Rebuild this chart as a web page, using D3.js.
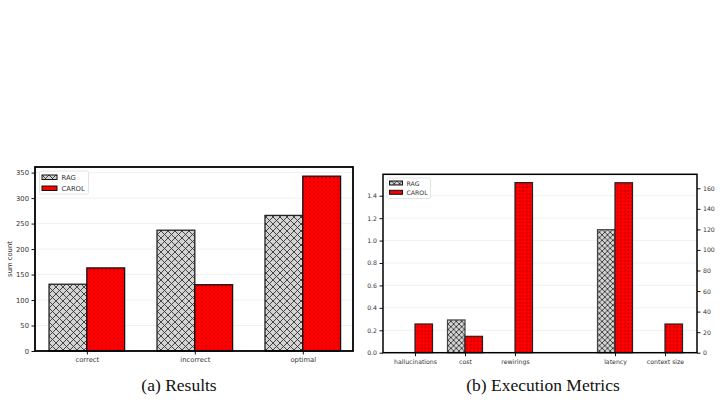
<!DOCTYPE html>
<html><head><meta charset="utf-8">
<script src="https://cdn.jsdelivr.net/npm/d3@7/dist/d3.min.js"></script>
<style>body{margin:0;background:#fff}svg{display:block}</style>
</head><body>
<svg id="c" width="721" height="404"></svg>
<script>
// ---- data ----
const seriesNames = ["RAG", "CAROL"];
const resultCats = ["correct", "incorrect", "optimal"];
const resultRAG = [131, 237, 266];
const resultCAROL = [163, 130, 343];
const resultTicks = [0, 50, 100, 150, 200, 250, 300, 350];

const metricCats = ["hallucinations", "cost", "rewirings", "", "latency", "context size"];
const metricRAG = [0, 0.292, 0, null, 119.7, 0];
const metricCAROL = [0.256, 0.146, 1.517, null, 165.4, 27.9];
const metricOnRightAxis = [false, false, false, false, true, true];
const metricLeftTicks = [0, 0.2, 0.4, 0.6, 0.8, 1.0, 1.2, 1.4];
const metricRightTicks = [0, 20, 40, 60, 80, 100, 120, 140, 160];

const captions = ["(a) Results", "(b) Execution Metrics"];

const svg = d3.select("#c");
const defs = svg.append("defs");

function makePatterns(id, cross, dot) {
  const p1 = defs.append("pattern").attr("id", "rag" + id).attr("patternUnits", "userSpaceOnUse")
    .attr("width", cross).attr("height", cross);
  p1.append("rect").attr("width", cross).attr("height", cross).attr("fill", "#d3d3d3");
  p1.append("path").attr("d", `M0,0L${cross},${cross}M0,${cross}L${cross},0`)
    .attr("stroke", "#333").attr("stroke-width", 0.9).attr("fill", "none");
  const p2 = defs.append("pattern").attr("id", "carol" + id).attr("patternUnits", "userSpaceOnUse")
    .attr("width", dot).attr("height", dot);
  p2.append("rect").attr("width", dot).attr("height", dot).attr("fill", "#ff0000");
  p2.append("circle").attr("cx", dot / 2).attr("cy", dot / 2).attr("r", 0.45).attr("fill", "#000");
}
makePatterns("A", 7, 4);
makePatterns("B", 5.4, 3.5);

const txtCol = "#333";

// ---------- chart (a) ----------
{
  const fs = 6.8;
  const x = d3.scaleLinear().domain([-0.48, 2.465]).range([35, 353]);
  const y = d3.scaleLinear().domain([0, 361]).range([351, 167]);
  const bw = 0.35 * (x(1) - x(0));
  const g = svg.append("g");
  g.selectAll(".grid").data(resultTicks.slice(1)).enter().append("line")
    .attr("x1", x.range()[0]).attr("x2", x.range()[1])
    .attr("y1", d => y(d)).attr("y2", d => y(d))
    .attr("stroke", "#ececec").attr("stroke-width", 0.8);
  const data = resultCats.map((c, i) => ({ i, rag: resultRAG[i], carol: resultCAROL[i] }));
  g.selectAll(".rag").data(data).enter().append("rect")
    .attr("x", d => x(d.i) - bw).attr("width", bw)
    .attr("y", d => y(d.rag)).attr("height", d => y(0) - y(d.rag))
    .attr("fill", "url(#ragA)").attr("stroke", "#222").attr("stroke-width", 1.3);
  g.selectAll(".carol").data(data).enter().append("rect")
    .attr("x", d => x(d.i)).attr("width", bw)
    .attr("y", d => y(d.carol)).attr("height", d => y(0) - y(d.carol))
    .attr("fill", "url(#carolA)").attr("stroke", "#111").attr("stroke-width", 1.3);
  const ya = g.append("g").attr("transform", `translate(${x.range()[0]},0)`)
    .call(d3.axisLeft(y).tickValues(resultTicks).tickSize(3.5).tickPadding(2.5).tickFormat(d3.format("d")));
  const xa = g.append("g").attr("transform", `translate(0,${y(0)})`)
    .call(d3.axisBottom(x).tickValues(resultCats.map((c, i) => i)).tickSize(3.5).tickPadding(3).tickFormat(i => resultCats[i]));
  [ya, xa].forEach(a => {
    a.select(".domain").remove();
    a.selectAll("text").attr("font-family", "DejaVu Sans").attr("font-size", fs).attr("fill", txtCol);
    a.selectAll("line").attr("stroke", "#111").attr("stroke-width", 1);
  });
  g.append("rect").attr("x", x.range()[0]).attr("y", y.range()[1])
    .attr("width", x.range()[1] - x.range()[0]).attr("height", y.range()[0] - y.range()[1])
    .attr("fill", "none").attr("stroke", "#000").attr("stroke-width", 1.8);
  g.append("text").attr("transform", `translate(12,${(y.range()[0] + y.range()[1]) / 2}) rotate(-90)`)
    .attr("text-anchor", "middle").attr("font-family", "DejaVu Sans").attr("font-size", fs).attr("fill", txtCol)
    .text("sum count");
  const lg = g.append("g");
  lg.append("rect").attr("x", 39.5).attr("y", 171).attr("width", 49).attr("height", 23)
    .attr("fill", "#fff").attr("stroke", "#ddd").attr("stroke-width", 0.8).attr("rx", 1.5);
  seriesNames.forEach((n, k) => {
    lg.append("rect").attr("x", 42).attr("y", 175 + k * 11).attr("width", 15).attr("height", 4.5)
      .attr("fill", k === 0 ? "url(#ragA)" : "url(#carolA)").attr("stroke", "#111").attr("stroke-width", 1);
    lg.append("text").attr("x", 61.5).attr("y", 180 + k * 11).attr("font-family", "DejaVu Sans")
      .attr("font-size", fs).attr("fill", txtCol).text(n);
  });
}

// ---------- chart (b) ----------
{
  const fs = 6.2;
  const x = d3.scaleLinear().domain([-0.64, 5.64]).range([383, 697]);
  const yL = d3.scaleLinear().domain([0, 1.591]).range([352.7, 174.3]);
  const yR = d3.scaleLinear().domain([0, 173.6]).range([352.7, 174.3]);
  const bw = 0.35 * (x(1) - x(0));
  const g = svg.append("g");
  g.selectAll(".grid").data(metricLeftTicks.slice(1)).enter().append("line")
    .attr("x1", x.range()[0]).attr("x2", x.range()[1])
    .attr("y1", d => yL(d)).attr("y2", d => yL(d))
    .attr("stroke", "#ececec").attr("stroke-width", 0.8);
  const data = metricCats.map((c, i) => ({ i, rag: metricRAG[i], carol: metricCAROL[i], y: metricOnRightAxis[i] ? yR : yL }));
  g.selectAll(".rag").data(data.filter(d => d.rag)).enter().append("rect")
    .attr("x", d => x(d.i) - bw).attr("width", bw)
    .attr("y", d => d.y(d.rag)).attr("height", d => d.y(0) - d.y(d.rag))
    .attr("fill", "url(#ragB)").attr("stroke", "#444").attr("stroke-width", 1.2);
  g.selectAll(".carol").data(data.filter(d => d.carol)).enter().append("rect")
    .attr("x", d => x(d.i)).attr("width", bw)
    .attr("y", d => d.y(d.carol)).attr("height", d => d.y(0) - d.y(d.carol))
    .attr("fill", "url(#carolB)").attr("stroke", "#222").attr("stroke-width", 1.2);
  const ya = g.append("g").attr("transform", `translate(${x.range()[0]},0)`)
    .call(d3.axisLeft(yL).tickValues(metricLeftTicks).tickSize(3.5).tickPadding(2.5).tickFormat(d3.format(".1f")));
  const yb = g.append("g").attr("transform", `translate(${x.range()[1]},0)`)
    .call(d3.axisRight(yR).tickValues(metricRightTicks).tickSize(3.5).tickPadding(2.5).tickFormat(d3.format("d")));
  const xa = g.append("g").attr("transform", `translate(0,${yL(0)})`)
    .call(d3.axisBottom(x).tickValues(metricCats.map((c, i) => i).filter(i => metricCats[i] !== ""))
      .tickSize(3.5).tickPadding(3).tickFormat(i => metricCats[i]));
  [ya, yb, xa].forEach(a => {
    a.select(".domain").remove();
    a.selectAll("text").attr("font-family", "DejaVu Sans").attr("font-size", fs).attr("fill", txtCol);
    a.selectAll("line").attr("stroke", "#111").attr("stroke-width", 1);
  });
  g.append("rect").attr("x", x.range()[0]).attr("y", yL.range()[1])
    .attr("width", x.range()[1] - x.range()[0]).attr("height", yL.range()[0] - yL.range()[1])
    .attr("fill", "none").attr("stroke", "#000").attr("stroke-width", 1.5);
  const lg = g.append("g");
  lg.append("rect").attr("x", 387).attr("y", 178).attr("width", 43.5).attr("height", 20.5)
    .attr("fill", "#fff").attr("stroke", "#ddd").attr("stroke-width", 0.8).attr("rx", 1.5);
  seriesNames.forEach((n, k) => {
    lg.append("rect").attr("x", 389.5).attr("y", 181 + k * 9.3).attr("width", 13).attr("height", 4)
      .attr("fill", k === 0 ? "url(#ragB)" : "url(#carolB)").attr("stroke", "#111").attr("stroke-width", 1);
    lg.append("text").attr("x", 406.5).attr("y", 185.5 + k * 9.3).attr("font-family", "DejaVu Sans")
      .attr("font-size", fs).attr("fill", txtCol).text(n);
  });
}

// captions
svg.selectAll(".cap").data(captions).enter().append("text")
  .attr("x", (d, i) => i === 0 ? 179 : 543).attr("y", 391)
  .attr("text-anchor", "middle").attr("font-family", "Liberation Serif").attr("font-size", 17.5)
  .attr("fill", "#111").text(d => d);
</script>
</body></html>
